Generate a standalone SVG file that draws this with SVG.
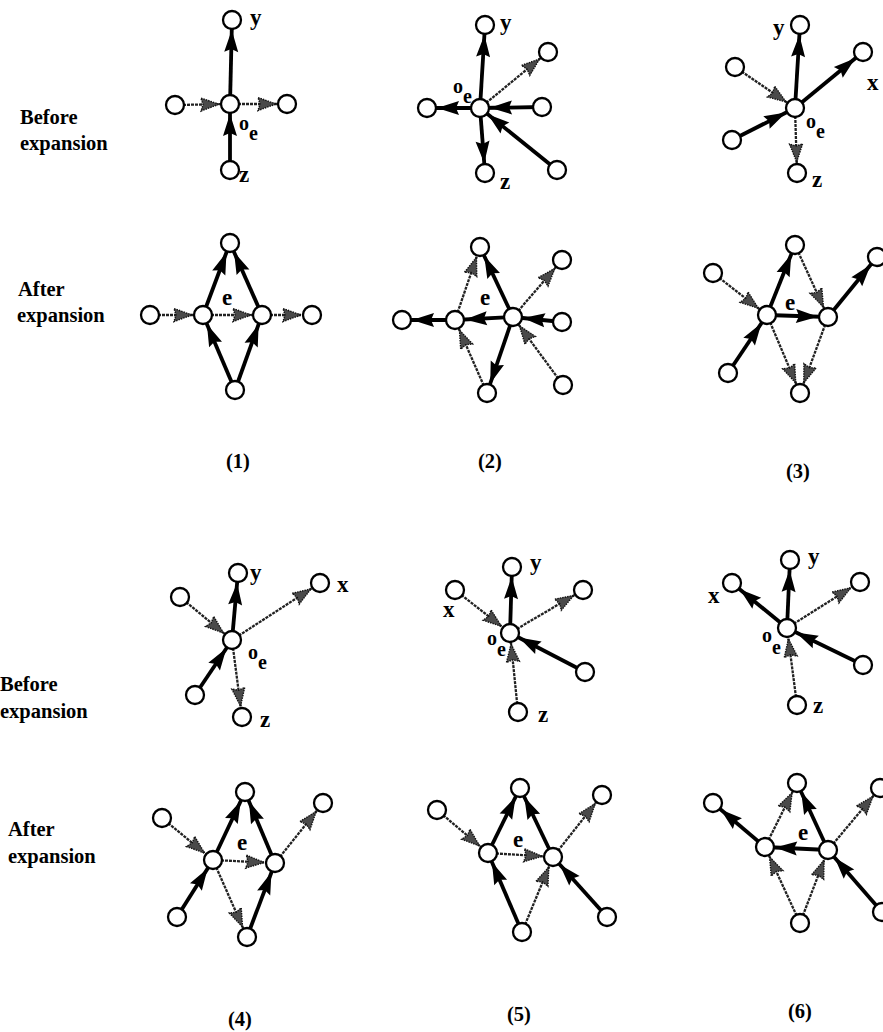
<svg xmlns="http://www.w3.org/2000/svg" width="883" height="1032" viewBox="0 0 883 1032">
<style>
.n{fill:#fff;stroke:#000;stroke-width:2.3}
.t{stroke:#000;stroke-width:3.8;fill:none;marker-end:url(#ah)}
.d{stroke:#222;stroke-width:2.3;stroke-dasharray:3 1;fill:none;marker-end:url(#ahd)}
.l{font-family:"Liberation Serif","Times New Roman",serif;font-weight:bold;font-size:23px;fill:#000}
.s{font-family:"Liberation Serif","Times New Roman",serif;font-weight:bold;font-size:20px;fill:#000}
.cap{font-family:"Liberation Serif","Times New Roman",serif;font-weight:bold;font-size:20.5px;fill:#000}
</style>
<defs>
<marker id="ah" viewBox="-34 -9 36 18" refX="0" refY="0" markerWidth="36" markerHeight="18" markerUnits="userSpaceOnUse" orient="auto" overflow="visible">
<path d="M-10 0 L-32 -7 L-29 0 L-32 7 Z" fill="#000"/>
</marker>
<marker id="ahd" viewBox="-32 -8 34 16" refX="0" refY="0" markerWidth="34" markerHeight="16" markerUnits="userSpaceOnUse" orient="auto" overflow="visible">
<path d="M-11 0 L-29 -6.5 L-27 0 L-29 6.5 Z" fill="#4a4a4a" stroke="#111" stroke-width="1.4" stroke-dasharray="1.5 1"/>
</marker>
</defs>

<g id="captions">
<text class="cap" x="20" y="124">Before</text>
<text class="cap" x="20" y="150">expansion</text>
<text class="cap" x="18" y="296">After</text>
<text class="cap" x="17" y="322">expansion</text>
<text class="cap" x="0" y="691">Before</text>
<text class="cap" x="0" y="718">expansion</text>
<text class="cap" x="8" y="836">After</text>
<text class="cap" x="8" y="863">expansion</text>
<text class="cap" x="238" y="468" text-anchor="middle">(1)</text>
<text class="cap" x="490" y="468" text-anchor="middle">(2)</text>
<text class="cap" x="798" y="478" text-anchor="middle">(3)</text>
<text class="cap" x="240" y="1026" text-anchor="middle">(4)</text>
<text class="cap" x="519" y="1021" text-anchor="middle">(5)</text>
<text class="cap" x="800" y="1018" text-anchor="middle">(6)</text>
</g>

<g id="connectors">
<!-- panel 1 before -->
<line class="t" x1="230" y1="104" x2="232" y2="20"/>
<line class="t" x1="230" y1="170" x2="230" y2="104"/>
<line class="d" x1="175" y1="105" x2="230" y2="104"/>
<line class="d" x1="230" y1="104" x2="287" y2="104"/>
<!-- panel 1 after -->
<line class="d" x1="150" y1="315" x2="203" y2="315"/>
<line class="t" x1="203" y1="315" x2="230" y2="243"/>
<line class="t" x1="262" y1="315" x2="230" y2="243"/>
<line class="d" x1="203" y1="315" x2="262" y2="315"/>
<line class="d" x1="262" y1="315" x2="312" y2="315"/>
<line class="t" x1="235" y1="390" x2="203" y2="315"/>
<line class="t" x1="235" y1="390" x2="262" y2="315"/>
<!-- panel 2 before -->
<line class="t" x1="480" y1="108" x2="485" y2="25"/>
<line class="d" x1="480" y1="108" x2="548" y2="52"/>
<line class="t" x1="480" y1="108" x2="427" y2="108"/>
<line class="t" x1="542" y1="107" x2="480" y2="108"/>
<line class="t" x1="557" y1="170" x2="480" y2="108"/>
<line class="t" x1="480" y1="108" x2="485" y2="173"/>
<!-- panel 2 after -->
<line class="d" x1="455" y1="320" x2="480" y2="247"/>
<line class="t" x1="513" y1="317" x2="480" y2="247"/>
<line class="d" x1="513" y1="317" x2="562" y2="260"/>
<line class="t" x1="455" y1="320" x2="402" y2="320"/>
<line class="t" x1="513" y1="317" x2="455" y2="320"/>
<line class="t" x1="562" y1="322" x2="513" y2="317"/>
<line class="d" x1="563" y1="385" x2="513" y2="317"/>
<line class="d" x1="487" y1="393" x2="455" y2="320"/>
<line class="t" x1="513" y1="317" x2="487" y2="393"/>
<!-- panel 3 before -->
<line class="t" x1="795" y1="108" x2="800" y2="25"/>
<line class="t" x1="795" y1="108" x2="863" y2="52"/>
<line class="d" x1="735" y1="67" x2="795" y2="108"/>
<line class="t" x1="732" y1="140" x2="795" y2="108"/>
<line class="d" x1="795" y1="108" x2="797" y2="173"/>
<!-- panel 3 after -->
<line class="t" x1="767" y1="315" x2="795" y2="245"/>
<line class="d" x1="795" y1="245" x2="828" y2="317"/>
<line class="t" x1="828" y1="317" x2="877" y2="257"/>
<line class="d" x1="713" y1="273" x2="767" y2="315"/>
<line class="t" x1="767" y1="315" x2="828" y2="317"/>
<line class="t" x1="728" y1="373" x2="767" y2="315"/>
<line class="d" x1="767" y1="315" x2="800" y2="393"/>
<line class="d" x1="828" y1="317" x2="800" y2="393"/>
<!-- panel 4 before -->
<line class="t" x1="232" y1="640" x2="238" y2="573"/>
<line class="d" x1="232" y1="640" x2="320" y2="583"/>
<line class="d" x1="180" y1="597" x2="232" y2="640"/>
<line class="t" x1="195" y1="695" x2="232" y2="640"/>
<line class="d" x1="232" y1="640" x2="242" y2="717"/>
<!-- panel 4 after -->
<line class="t" x1="213" y1="860" x2="245" y2="792"/>
<line class="t" x1="275" y1="863" x2="245" y2="792"/>
<line class="d" x1="275" y1="863" x2="323" y2="803"/>
<line class="d" x1="162" y1="818" x2="213" y2="860"/>
<line class="d" x1="213" y1="860" x2="275" y2="863"/>
<line class="t" x1="177" y1="917" x2="213" y2="860"/>
<line class="d" x1="213" y1="860" x2="247" y2="937"/>
<line class="t" x1="247" y1="937" x2="275" y2="863"/>
<!-- panel 5 before -->
<line class="t" x1="510" y1="633" x2="512" y2="567"/>
<line class="d" x1="455" y1="590" x2="510" y2="633"/>
<line class="d" x1="510" y1="633" x2="583" y2="590"/>
<line class="t" x1="585" y1="672" x2="510" y2="633"/>
<line class="d" x1="518" y1="712" x2="510" y2="633"/>
<!-- panel 5 after -->
<line class="t" x1="488" y1="853" x2="520" y2="788"/>
<line class="t" x1="553" y1="857" x2="520" y2="788"/>
<line class="d" x1="553" y1="857" x2="602" y2="795"/>
<line class="d" x1="437" y1="810" x2="488" y2="853"/>
<line class="d" x1="488" y1="853" x2="553" y2="857"/>
<line class="t" x1="522" y1="932" x2="488" y2="853"/>
<line class="d" x1="522" y1="932" x2="553" y2="857"/>
<line class="t" x1="607" y1="917" x2="553" y2="857"/>
<!-- panel 6 before -->
<line class="t" x1="787" y1="628" x2="790" y2="560"/>
<line class="t" x1="787" y1="628" x2="732" y2="583"/>
<line class="d" x1="787" y1="628" x2="860" y2="582"/>
<line class="t" x1="863" y1="665" x2="787" y2="628"/>
<line class="d" x1="797" y1="705" x2="787" y2="628"/>
<!-- panel 6 after -->
<line class="d" x1="765" y1="847" x2="797" y2="783"/>
<line class="t" x1="828" y1="850" x2="797" y2="783"/>
<line class="d" x1="828" y1="850" x2="880" y2="788"/>
<line class="t" x1="765" y1="847" x2="713" y2="803"/>
<line class="t" x1="828" y1="850" x2="765" y2="847"/>
<line class="t" x1="882" y1="912" x2="828" y2="850"/>
<line class="d" x1="800" y1="923" x2="765" y2="847"/>
<line class="d" x1="800" y1="923" x2="828" y2="850"/>
</g>

<!-- Panel 1 before -->
<g id="p1b-y"><circle class="n" cx="232" cy="20" r="9"/><text class="l" x="250" y="25">y</text></g>
<g id="p1b-o"><circle class="n" cx="230" cy="104" r="9"/><text class="s" x="239" y="130">o<tspan dy="10">e</tspan></text></g>
<g id="p1b-l"><circle class="n" cx="175" cy="105" r="9"/></g>
<g id="p1b-r"><circle class="n" cx="287" cy="104" r="9"/></g>
<g id="p1b-z"><circle class="n" cx="230" cy="170" r="9"/><text class="l" x="239" y="182">z</text></g>
<!-- Panel 1 after -->
<g id="p1a-top"><circle class="n" cx="230" cy="243" r="9"/></g>
<g id="p1a-fl"><circle class="n" cx="150" cy="315" r="9"/></g>
<g id="p1a-L"><circle class="n" cx="203" cy="315" r="9"/><text class="l" x="222" y="305">e</text></g>
<g id="p1a-R"><circle class="n" cx="262" cy="315" r="9"/></g>
<g id="p1a-fr"><circle class="n" cx="312" cy="315" r="9"/></g>
<g id="p1a-bot"><circle class="n" cx="235" cy="390" r="9"/></g>
<!-- Panel 2 before -->
<g id="p2b-y"><circle class="n" cx="485" cy="25" r="9"/><text class="l" x="500" y="30">y</text></g>
<g id="p2b-ur"><circle class="n" cx="548" cy="52" r="9"/></g>
<g id="p2b-o"><circle class="n" cx="480" cy="108" r="9"/><text class="s" x="453" y="93">o<tspan dy="10">e</tspan></text></g>
<g id="p2b-l"><circle class="n" cx="427" cy="108" r="9"/></g>
<g id="p2b-r"><circle class="n" cx="542" cy="107" r="9"/></g>
<g id="p2b-lr"><circle class="n" cx="557" cy="170" r="9"/></g>
<g id="p2b-z"><circle class="n" cx="485" cy="173" r="9"/><text class="l" x="500" y="189">z</text></g>
<!-- Panel 2 after -->
<g id="p2a-top"><circle class="n" cx="480" cy="247" r="9"/></g>
<g id="p2a-ur"><circle class="n" cx="562" cy="260" r="9"/></g>
<g id="p2a-L"><circle class="n" cx="455" cy="320" r="9"/><text class="l" x="480" y="305">e</text></g>
<g id="p2a-R"><circle class="n" cx="513" cy="317" r="9"/></g>
<g id="p2a-fl"><circle class="n" cx="402" cy="320" r="9"/></g>
<g id="p2a-r"><circle class="n" cx="562" cy="322" r="9"/></g>
<g id="p2a-lr"><circle class="n" cx="563" cy="385" r="9"/></g>
<g id="p2a-bot"><circle class="n" cx="487" cy="393" r="9"/></g>
<!-- Panel 3 before -->
<g id="p3b-y"><circle class="n" cx="800" cy="25" r="9"/><text class="l" x="773" y="35">y</text></g>
<g id="p3b-x"><circle class="n" cx="863" cy="52" r="9"/><text class="l" x="867" y="90">x</text></g>
<g id="p3b-ul"><circle class="n" cx="735" cy="67" r="9"/></g>
<g id="p3b-o"><circle class="n" cx="795" cy="108" r="9"/><text class="s" x="806" y="128">o<tspan dy="10">e</tspan></text></g>
<g id="p3b-ll"><circle class="n" cx="732" cy="140" r="9"/></g>
<g id="p3b-z"><circle class="n" cx="797" cy="173" r="9"/><text class="l" x="812" y="187">z</text></g>
<!-- Panel 3 after -->
<g id="p3a-top"><circle class="n" cx="795" cy="245" r="9"/></g>
<g id="p3a-ur"><circle class="n" cx="877" cy="257" r="9"/></g>
<g id="p3a-ul"><circle class="n" cx="713" cy="273" r="9"/></g>
<g id="p3a-L"><circle class="n" cx="767" cy="315" r="9"/><text class="l" x="785" y="310">e</text></g>
<g id="p3a-R"><circle class="n" cx="828" cy="317" r="9"/></g>
<g id="p3a-ll"><circle class="n" cx="728" cy="373" r="9"/></g>
<g id="p3a-bot"><circle class="n" cx="800" cy="393" r="9"/></g>
<!-- Panel 4 before -->
<g id="p4b-y"><circle class="n" cx="238" cy="573" r="9"/><text class="l" x="250" y="580">y</text></g>
<g id="p4b-x"><circle class="n" cx="320" cy="583" r="9"/><text class="l" x="337" y="592">x</text></g>
<g id="p4b-ul"><circle class="n" cx="180" cy="597" r="9"/></g>
<g id="p4b-o"><circle class="n" cx="232" cy="640" r="9"/><text class="s" x="248" y="659">o<tspan dy="10">e</tspan></text></g>
<g id="p4b-ll"><circle class="n" cx="195" cy="695" r="9"/></g>
<g id="p4b-z"><circle class="n" cx="242" cy="717" r="9"/><text class="l" x="260" y="727">z</text></g>
<!-- Panel 4 after -->
<g id="p4a-top"><circle class="n" cx="245" cy="792" r="9"/></g>
<g id="p4a-ur"><circle class="n" cx="323" cy="803" r="9"/></g>
<g id="p4a-ul"><circle class="n" cx="162" cy="818" r="9"/></g>
<g id="p4a-L"><circle class="n" cx="213" cy="860" r="9"/><text class="l" x="237" y="850">e</text></g>
<g id="p4a-R"><circle class="n" cx="275" cy="863" r="9"/></g>
<g id="p4a-ll"><circle class="n" cx="177" cy="917" r="9"/></g>
<g id="p4a-bot"><circle class="n" cx="247" cy="937" r="9"/></g>
<!-- Panel 5 before -->
<g id="p5b-y"><circle class="n" cx="512" cy="567" r="9"/><text class="l" x="530" y="570">y</text></g>
<g id="p5b-x"><circle class="n" cx="455" cy="590" r="9"/><text class="l" x="443" y="617">x</text></g>
<g id="p5b-ur"><circle class="n" cx="583" cy="590" r="9"/></g>
<g id="p5b-o"><circle class="n" cx="510" cy="633" r="9"/><text class="s" x="487" y="645">o<tspan dy="11">e</tspan></text></g>
<g id="p5b-lr"><circle class="n" cx="585" cy="672" r="9"/></g>
<g id="p5b-z"><circle class="n" cx="518" cy="712" r="9"/><text class="l" x="538" y="722">z</text></g>
<!-- Panel 5 after -->
<g id="p5a-top"><circle class="n" cx="520" cy="788" r="9"/></g>
<g id="p5a-ur"><circle class="n" cx="602" cy="795" r="9"/></g>
<g id="p5a-ul"><circle class="n" cx="437" cy="810" r="9"/></g>
<g id="p5a-L"><circle class="n" cx="488" cy="853" r="9"/><text class="l" x="513" y="847">e</text></g>
<g id="p5a-R"><circle class="n" cx="553" cy="857" r="9"/></g>
<g id="p5a-lr"><circle class="n" cx="607" cy="917" r="9"/></g>
<g id="p5a-bot"><circle class="n" cx="522" cy="932" r="9"/></g>
<!-- Panel 6 before -->
<g id="p6b-y"><circle class="n" cx="790" cy="560" r="9"/><text class="l" x="808" y="564">y</text></g>
<g id="p6b-x"><circle class="n" cx="732" cy="583" r="9"/><text class="l" x="708" y="603">x</text></g>
<g id="p6b-ur"><circle class="n" cx="860" cy="582" r="9"/></g>
<g id="p6b-o"><circle class="n" cx="787" cy="628" r="9"/><text class="s" x="762" y="642">o<tspan dy="12">e</tspan></text></g>
<g id="p6b-lr"><circle class="n" cx="863" cy="665" r="9"/></g>
<g id="p6b-z"><circle class="n" cx="797" cy="705" r="9"/><text class="l" x="813" y="713">z</text></g>
<!-- Panel 6 after -->
<g id="p6a-top"><circle class="n" cx="797" cy="783" r="9"/></g>
<g id="p6a-ur"><circle class="n" cx="880" cy="788" r="9"/></g>
<g id="p6a-fl"><circle class="n" cx="713" cy="803" r="9"/></g>
<g id="p6a-L"><circle class="n" cx="765" cy="847" r="9"/><text class="l" x="798" y="840">e</text></g>
<g id="p6a-R"><circle class="n" cx="828" cy="850" r="9"/></g>
<g id="p6a-lr"><circle class="n" cx="882" cy="912" r="9"/></g>
<g id="p6a-bot"><circle class="n" cx="800" cy="923" r="9"/></g>
</svg>
